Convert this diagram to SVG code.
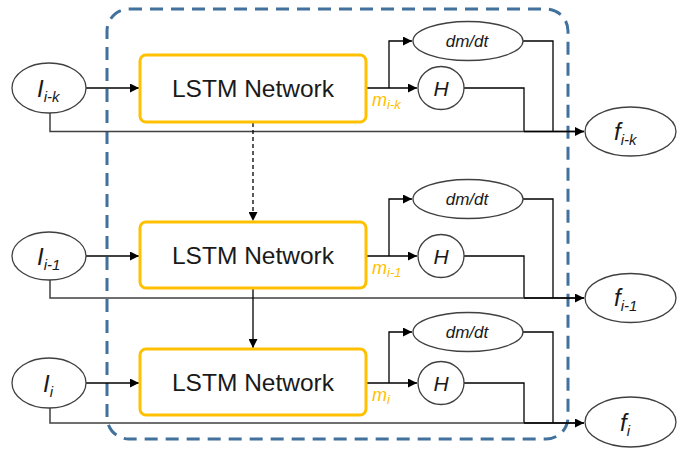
<svg xmlns="http://www.w3.org/2000/svg" width="694" height="450" viewBox="0 0 694 450">
<style>
  .ell { fill: #ffffff; stroke: #404040; stroke-width: 1.3; }
  .lstm { fill: #ffffff; stroke: #FFC000; stroke-width: 3; }
  .lstmt { font-family: "Liberation Sans", Arial, sans-serif; font-size: 24.5px; fill: #1a1a1a; text-anchor: middle; }
  .it { font-family: "Liberation Sans", Arial, sans-serif; font-style: italic; fill: #1a1a1a; }
  .mlab { font-family: "Liberation Sans", Arial, sans-serif; font-style: italic; fill: #FFC000; }
  .ln { fill: none; stroke: #000000; stroke-width: 1.3; }
  .lnm { fill: none; stroke: #404040; stroke-width: 1.5; }
  .dash { fill: none; stroke: #41719C; stroke-width: 3; stroke-dasharray: 13 8; }
</style>
<defs>
  <marker id="ah" viewBox="0 0 10 10" refX="10" refY="5" markerWidth="9" markerHeight="9" markerUnits="userSpaceOnUse" orient="auto">
    <path d="M0,0 L10,5 L0,10 z" fill="#000000"/>
  </marker>
</defs>

<rect id="container" class="dash" x="107" y="9" width="461" height="430" rx="22" ry="22"/>

<g id="connectors">
  <path class="ln" d="M86,88 H139" marker-end="url(#ah)"/>
  <path class="ln" d="M366,88 H417" marker-end="url(#ah)"/>
  <path class="ln" d="M389,88 V41 H412" marker-end="url(#ah)"/>
  <path class="ln" d="M464,88 H524 V131"/>
  <path class="ln" d="M523,41 H553 V131"/>
  <path class="lnm" d="M50,113 V131.5 H584" marker-end="url(#ah)"/>
  <path class="ln" d="M524,131.5 H584"/>
  <path class="ln" d="M86,256 H139" marker-end="url(#ah)"/>
  <path class="ln" d="M366,256 H417" marker-end="url(#ah)"/>
  <path class="ln" d="M389,256 V199 H412" marker-end="url(#ah)"/>
  <path class="ln" d="M464,256 H524 V298"/>
  <path class="ln" d="M523,199 H553 V298"/>
  <path class="lnm" d="M50,280 V298 H584" marker-end="url(#ah)"/>
  <path class="ln" d="M524,298 H584"/>
  <path class="ln" d="M86,383 H139" marker-end="url(#ah)"/>
  <path class="ln" d="M366,383 H417" marker-end="url(#ah)"/>
  <path class="ln" d="M389,383 V332 H412" marker-end="url(#ah)"/>
  <path class="ln" d="M464,383 H524 V423"/>
  <path class="ln" d="M523,332 H553 V423"/>
  <path class="lnm" d="M50,408 V423 H584" marker-end="url(#ah)"/>
  <path class="ln" d="M524,423 H584"/>
  <path class="ln" d="M253,123 V221" stroke-dasharray="4 3" marker-end="url(#ah)"/>
  <path class="ln" d="M253,289 V348" marker-end="url(#ah)"/>
</g>

<g id="I_ik"><ellipse class="ell" cx="49" cy="88" rx="37" ry="25"/><text class="it" x="37" y="97" font-size="24">I<tspan font-size="15" dy="5">i-k</tspan></text></g>
<g id="I_i1"><ellipse class="ell" cx="49" cy="256" rx="37" ry="24"/><text class="it" x="37" y="265" font-size="24">I<tspan font-size="15" dy="5">i-1</tspan></text></g>
<g id="I_i"><ellipse class="ell" cx="49" cy="383" rx="37" ry="25"/><text class="it" x="43" y="392" font-size="24">I<tspan font-size="15" dy="5">i</tspan></text></g>

<g id="lstm1"><rect class="lstm" x="140" y="55" width="226" height="67" rx="6"/><text class="lstmt" x="253" y="97">LSTM Network</text></g>
<g id="lstm2"><rect class="lstm" x="140" y="222" width="226" height="66" rx="6"/><text class="lstmt" x="253" y="264">LSTM Network</text></g>
<g id="lstm3"><rect class="lstm" x="140" y="349" width="226" height="66" rx="6"/><text class="lstmt" x="253" y="391">LSTM Network</text></g>

<g id="m_ik"><text class="mlab" x="372" y="106" font-size="18">m<tspan font-size="13" dy="3">i-k</tspan></text></g>
<g id="m_i1"><text class="mlab" x="372" y="274" font-size="18">m<tspan font-size="13" dy="3">i-1</tspan></text></g>
<g id="m_i"><text class="mlab" x="372" y="401" font-size="18">m<tspan font-size="13" dy="3">i</tspan></text></g>

<g id="dmdt1"><ellipse class="ell" cx="468" cy="41" rx="55" ry="19.5"/><text class="it" x="467" y="47" font-size="17" text-anchor="middle">dm/dt</text></g>
<g id="dmdt2"><ellipse class="ell" cx="468" cy="199" rx="55" ry="19.5"/><text class="it" x="467" y="205" font-size="17" text-anchor="middle">dm/dt</text></g>
<g id="dmdt3"><ellipse class="ell" cx="468" cy="332" rx="55" ry="19.5"/><text class="it" x="467" y="338" font-size="17" text-anchor="middle">dm/dt</text></g>

<g id="H1"><ellipse class="ell" cx="441" cy="88" rx="23" ry="21.5"/><text class="it" x="441" y="96" font-size="21" text-anchor="middle">H</text></g>
<g id="H2"><ellipse class="ell" cx="441" cy="256" rx="23" ry="21.5"/><text class="it" x="441" y="264" font-size="21" text-anchor="middle">H</text></g>
<g id="H3"><ellipse class="ell" cx="441" cy="383" rx="23" ry="21.5"/><text class="it" x="441" y="391" font-size="21" text-anchor="middle">H</text></g>

<g id="f_ik"><ellipse class="ell" cx="630.5" cy="131.5" rx="45.5" ry="24.5"/><text class="it" x="614" y="140" font-size="24">f<tspan font-size="15" dy="5">i-k</tspan></text></g>
<g id="f_i1"><ellipse class="ell" cx="630.5" cy="298" rx="45.5" ry="24.5"/><text class="it" x="614" y="306" font-size="24">f<tspan font-size="15" dy="5">i-1</tspan></text></g>
<g id="f_i"><ellipse class="ell" cx="630.5" cy="422" rx="45.5" ry="25"/><text class="it" x="620" y="431" font-size="24">f<tspan font-size="15" dy="5">i</tspan></text></g>
</svg>
